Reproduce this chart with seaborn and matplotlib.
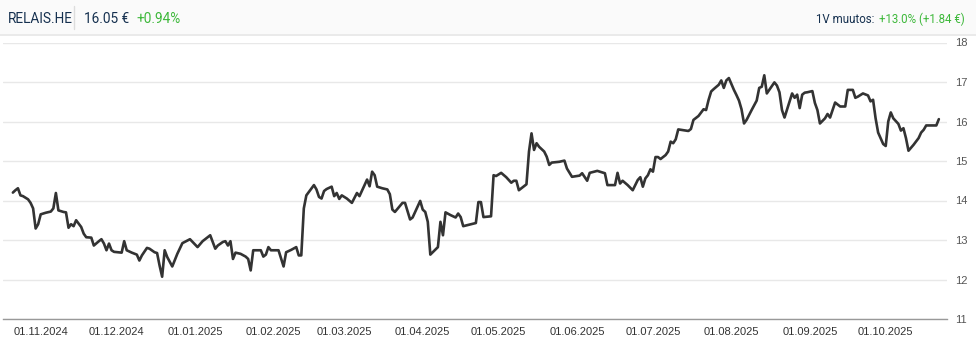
import matplotlib
matplotlib.use("Agg")
import matplotlib.pyplot as plt
import matplotlib.dates as mdates
from matplotlib.patches import Rectangle
from matplotlib.lines import Line2D
import numpy as np
import pandas as pd
import seaborn as sns

# ---- data (day offsets from 2024-11-01, closing price in EUR) ----
day_offsets = [
    -11, -10, -9, -8, -7, -5, -4, -3, -2, -1, 0, 2, 4, 5, 6, 7, 9, 10, 11, 12,
    13, 14, 16, 17, 18, 20, 21, 23, 24, 25, 26, 27, 28, 29, 32, 33, 34, 36, 38, 39,
    40, 42, 43, 45, 46, 47, 48, 49, 50, 52, 54, 56, 59, 62, 64, 67, 69, 70, 72, 73,
    74, 75, 76, 77, 79, 81, 82, 83, 84, 87, 88, 89, 90, 91, 94, 96, 97, 99, 101, 102,
    103, 104, 105, 108, 109, 110, 111, 112, 113, 115, 116, 117, 118, 119, 121, 123, 125, 126, 129, 130,
    131, 132, 133, 135, 137, 138, 139, 140, 143, 144, 146, 147, 150, 151, 152, 153, 154, 157, 158, 159,
    160, 162, 164, 165, 166, 167, 172, 173, 174, 175, 178, 179, 180, 182, 184, 186, 187, 188, 189, 192,
    193, 194, 195, 196, 197, 199, 200, 201, 202, 205, 207, 208, 210, 213, 214, 216, 217, 220, 221, 223,
    224, 227, 228, 229, 230, 232, 234, 236, 237, 238, 239, 240, 241, 242, 243, 244, 245, 247, 248, 249,
    250, 251, 252, 255, 256, 257, 258, 260, 262, 263, 264, 265, 266, 268, 269, 270, 271, 272, 274, 275,
    276, 277, 278, 279, 281, 283, 284, 285, 286, 287, 290, 291, 292, 293, 294, 297, 298, 299, 300, 301,
    302, 303, 305, 306, 307, 308, 310, 311, 312, 314, 316, 318, 319, 321, 322, 323, 325, 327, 328, 329,
    330, 331, 333, 334, 335, 336, 337, 339, 340, 341, 342, 343, 345, 347, 348, 349, 350, 352, 354, 355,
]
prices = [
    14.20, 14.26, 14.31, 14.13, 14.11, 14.03, 13.94, 13.80, 13.29, 13.40, 13.65, 13.69, 13.72, 13.80, 14.19, 13.75, 13.71, 13.70, 13.31, 13.40,
    13.35, 13.50, 13.33, 13.16, 13.07, 13.06, 12.86, 12.97, 13.02, 12.91, 12.74, 12.91, 12.74, 12.70, 12.68, 12.97, 12.74, 12.68, 12.63, 12.48,
    12.61, 12.80, 12.78, 12.69, 12.67, 12.35, 12.07, 12.74, 12.57, 12.33, 12.65, 12.92, 13.02, 12.82, 12.97, 13.12, 12.78, 12.86, 12.95, 12.97,
    12.86, 12.97, 12.52, 12.68, 12.65, 12.58, 12.52, 12.23, 12.74, 12.74, 12.58, 12.63, 12.82, 12.74, 12.74, 12.33, 12.69, 12.75, 12.82, 12.61,
    12.61, 13.80, 14.13, 14.39, 14.28, 14.09, 14.05, 14.24, 14.29, 14.35, 14.11, 14.19, 14.04, 14.13, 14.05, 13.94, 14.19, 14.11, 14.53, 14.36,
    14.73, 14.64, 14.35, 14.31, 14.28, 14.16, 13.77, 13.71, 13.94, 13.94, 13.52, 13.57, 13.99, 13.77, 13.71, 13.46, 12.63, 12.82, 13.46, 13.12,
    13.70, 13.63, 13.57, 13.67, 13.58, 13.35, 13.43, 13.96, 13.96, 13.58, 13.60, 14.64, 14.62, 14.70, 14.59, 14.45, 14.50, 14.50, 14.26, 14.41,
    15.24, 15.70, 15.28, 15.45, 15.36, 15.24, 15.11, 14.90, 14.96, 14.98, 15.01, 14.81, 14.60, 14.63, 14.69, 14.50, 14.70, 14.75, 14.73, 14.69,
    14.39, 14.39, 14.70, 14.43, 14.50, 14.39, 14.26, 14.52, 14.59, 14.35, 14.56, 14.64, 14.79, 14.73, 15.10, 15.10, 15.05, 15.15, 15.24, 15.49,
    15.45, 15.55, 15.80, 15.77, 15.76, 15.81, 16.04, 16.14, 16.31, 16.29, 16.55, 16.76, 16.82, 16.93, 17.04, 16.85, 17.04, 17.10, 16.80, 16.67,
    16.53, 16.31, 15.95, 16.04, 16.29, 16.53, 16.85, 16.88, 17.17, 16.71, 16.99, 16.91, 16.74, 16.29, 16.10, 16.71, 16.60, 16.68, 16.34, 16.68,
    16.73, 16.74, 16.77, 16.47, 16.29, 15.95, 16.08, 16.19, 16.10, 16.48, 16.38, 16.38, 16.80, 16.80, 16.60, 16.63, 16.71, 16.66, 16.51, 16.55,
    16.08, 15.72, 15.43, 15.38, 16.00, 16.23, 16.08, 15.94, 15.77, 15.83, 15.58, 15.26, 15.41, 15.58, 15.72, 15.79, 15.90, 15.90, 15.90, 16.06,
]
y_ticks = [11, 12, 13, 14, 15, 16, 17, 18]
ticker = "RELAIS.HE"
last_price = "16.05 €"
day_change = "+0.94%"
year_label = "1V muutos:"
year_change = "+13.0% (+1.84 €)"

start = pd.Timestamp("2024-11-01")
df = pd.DataFrame({"date": start + pd.to_timedelta(day_offsets, unit="D"), "price": prices})

sns.set_style("white")
plt.rcParams["font.family"] = ["Liberation Sans", "DejaVu Sans"]

W, H = 976, 338
fig = plt.figure(figsize=(W / 100, H / 100), dpi=100)

# header band
fig.patches.append(Rectangle((0, 1 - 34 / H), 1, 34 / H, transform=fig.transFigure,
                             facecolor="#fafafa", edgecolor="none", zorder=0))
fig.add_artist(Line2D([0, 1], [1 - 34.5 / H, 1 - 34.5 / H], transform=fig.transFigure,
                      color="#e6e6e6", linewidth=1.2))
fig.add_artist(Line2D([74 / W, 74 / W], [1 - 6 / H, 1 - 29 / H], transform=fig.transFigure,
                      color="#dddddd", linewidth=1))

navy = "#15304f"
green = "#3db83a"
hfont = ["Roboto", "DejaVu Sans"]
yb = 1 - 23 / H
fig.text(8 / W, yb, ticker, color=navy, fontsize=9.8, family=hfont, va="baseline", ha="left")
fig.text(84 / W, yb, last_price, color=navy, fontsize=9.8, family=hfont, va="baseline", ha="left")
fig.text(136 / W, yb, day_change, color=green, fontsize=9.8, family=hfont, va="baseline", ha="left")
fig.text(874 / W, yb, year_label, color=navy, fontsize=8.3, family=hfont, va="baseline", ha="right")
fig.text(965 / W, yb, year_change, color=green, fontsize=8.3, family=hfont, va="baseline", ha="right")

# plot area
left_px, right_px, top_px, bottom_px = 3, 947, 42.5, 319
ax = fig.add_axes([left_px / W, 1 - bottom_px / H, (right_px - left_px) / W, (bottom_px - top_px) / H])
sns.lineplot(data=df, x="date", y="price", ax=ax, color="#333333", linewidth=1.9)

px_per_day = 2.53
x0 = start + pd.Timedelta(days=(left_px - 40.7) / px_per_day)
x1 = start + pd.Timedelta(days=(right_px - 40.7) / px_per_day)
ax.set_xlim(x0, x1)
ax.set_ylim(y_ticks[0], y_ticks[-1])
ax.set_yticks(y_ticks)
ax.yaxis.tick_right()
ax.grid(axis="y", color="#e8e8e8", linewidth=1)
ax.grid(axis="x", visible=False)
ax.set_xlabel("")
ax.set_ylabel("")

ax.xaxis.set_major_locator(mdates.MonthLocator(bymonthday=1))
ax.xaxis.set_major_formatter(mdates.DateFormatter("%d.%m.%Y"))
ax.tick_params(axis="x", direction="out", length=5, width=1, color="#999999",
               labelsize=8, labelcolor="#333333", pad=1)
ax.tick_params(axis="y", length=0, labelsize=8, labelcolor="#555555", pad=6)

for side in ["top", "left", "right"]:
    ax.spines[side].set_visible(False)
ax.spines["bottom"].set_color("#999999")
ax.spines["bottom"].set_linewidth(1)
ax.set_facecolor("white")

fig.savefig("out.png", dpi=100)
